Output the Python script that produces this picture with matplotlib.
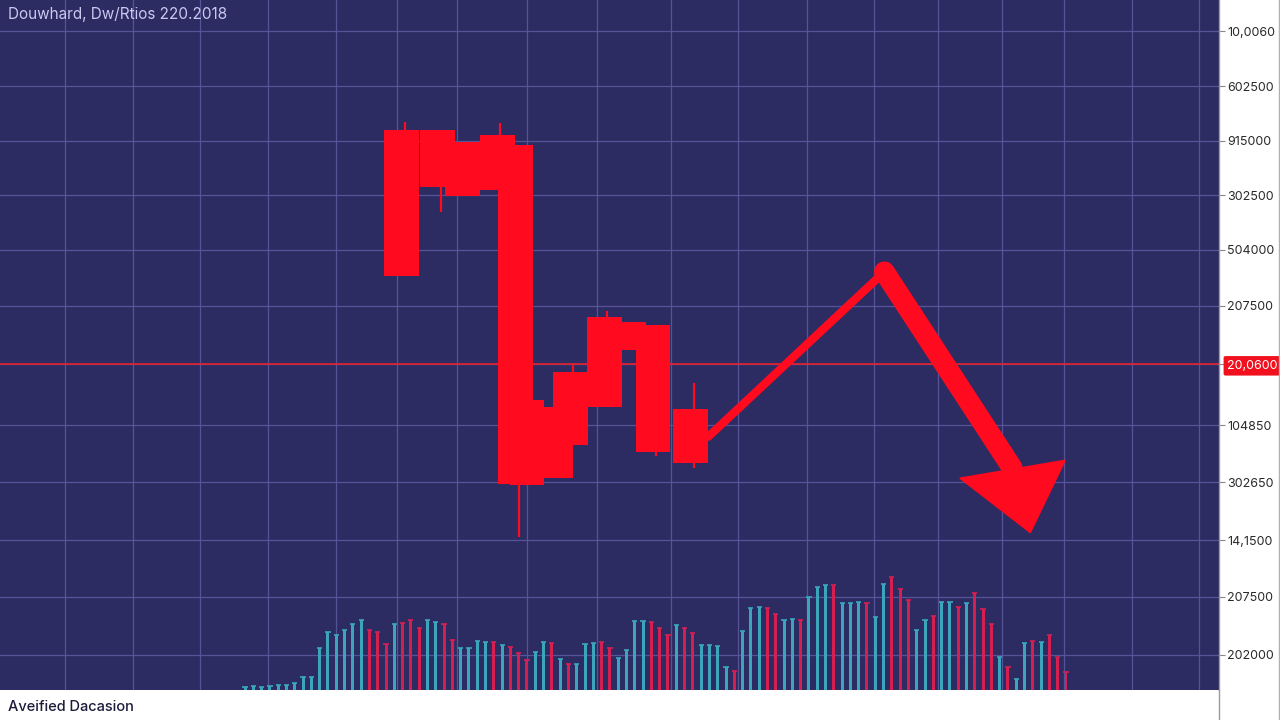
import matplotlib.pyplot as plt
from matplotlib.lines import Line2D
from matplotlib.patches import Polygon

# --- data ------------------------------------------------------------------
# candles: x in bar-index units, prices in chart units
cand_x = [18.9, 23.2, 26.2, 30.4, 32.6, 34.0, 37.4, 39.2, 43.3, 46.2, 49.2, 53.7]
cand_open = [81.2, 81.2, 79.4, 80.4, 79.0, 42.0, 41.0, 46.1, 54.1, 53.3, 52.9, 40.7]
cand_close = [60.0, 72.9, 71.6, 72.5, 29.9, 29.7, 30.7, 35.5, 41.0, 49.3, 34.5, 32.9]
cand_high = [82.3, 81.2, 79.4, 82.2, 79.0, 42.0, 41.0, 47.1, 54.9, 53.3, 52.9, 44.5]
cand_low = [60.0, 69.3, 71.6, 72.5, 22.2, 29.7, 30.7, 35.5, 41.0, 49.3, 33.9, 32.2]

# volume bars (1 = teal / up, 0 = red / down)
volume = [3, 4, 3, 4, 5, 5,
          7, 13, 13, 42, 58, 55, 60, 66, 70,
          60, 58, 46, 66, 67, 70, 62, 70, 68, 66,
          50, 42, 42, 49, 48, 48, 45, 43, 37, 30,
          38, 48, 47, 31, 26, 26, 46, 47, 48, 42,
          32, 40, 69, 69, 68, 62, 55, 65, 62, 57,
          45, 45, 44, 23, 19, 59, 82, 83, 82, 76,
          70, 71, 70, 93, 103, 105, 105, 87, 87, 88,
          87, 73, 106, 113, 101, 90, 60, 70, 74, 88,
          88, 83, 87, 97, 81, 66, 33, 23, 11, 47,
          49, 48, 55, 33, 18]
vol_up = [1, 1, 1, 1, 1, 1,
          1, 1, 1, 1, 1, 1, 1, 1, 1,
          0, 0, 0, 1, 0, 0, 0, 1, 1, 0,
          0, 1, 1, 1, 1, 0, 1, 0, 0, 0,
          1, 1, 0, 1, 0, 1, 1, 1, 0, 0,
          1, 1, 1, 1, 0, 0, 0, 1, 0, 0,
          1, 1, 1, 1, 0, 1, 1, 1, 0, 0,
          1, 1, 0, 1, 1, 1, 0, 1, 1, 1,
          0, 1, 1, 0, 0, 0, 1, 1, 0, 1,
          1, 0, 1, 0, 0, 0, 1, 0, 1, 1,
          0, 1, 0, 0, 0]

# projected move (arrow path) and its head
arrow_x = [55.85, 77.1, 92.5]
arrow_y = [36.7, 60.6, 32.2]
head_x = [86.2, 98.9, 94.7]
head_y = [30.7, 33.3, 22.8]

resistance = 47.2

tick_pos = [95.5, 87.5, 79.6, 71.7, 63.8, 55.7, 47.2, 38.4, 30.1, 21.7, 13.5, 5.1]
tick_labels = ['10,0060', '602500', '915000', '302500', '504000', '207500',
               '20,0600', '104850', '302650', '14,1500', '207500', '202000']
vgrid = [-21.7, -13.5, -5.4, 2.8, 11.0, 18.3, 25.6, 34.0, 42.5, 51.4, 59.5,
         67.8, 75.9, 83.6, 91.3, 98.8, 107.0, 115.0]

title = 'Douwhard, Dw/Rtios 220.2018'
footer = 'Aveified Dacasion'

# --- styling -------------------------------------------------------------------
bg = '#2c2b62'
grid_c = '#5a59a0'
candle_c = '#ff0a1e'
teal = '#3aa5bb'
crimson = '#d41f50'

plt.rcParams['font.family'] = ['Inter', 'DejaVu Sans']

fig = plt.figure(figsize=(12.8, 7.2), dpi=100, facecolor='white')
ax = fig.add_axes([0, 30 / 720, 1219 / 1280, 690 / 720])
ax.set_facecolor(bg)
ax.set_xlim(-29.55, 117.45)
ax.set_ylim(0, 100)

# grid
ax.set_xticks(vgrid)
ax.set_yticks(tick_pos)
ax.set_yticklabels(tick_labels)
ax.grid(True, color=grid_c, linewidth=0.9, alpha=0.9)
ax.set_axisbelow(True)
ax.tick_params(axis='x', length=0, labelbottom=False)
ax.yaxis.tick_right()
ax.tick_params(axis='y', direction='out', length=4, width=0.8, color='#888888',
               labelsize=9, labelcolor='#2a2a2a', pad=2)
for s in ['top', 'left', 'bottom']:
    ax.spines[s].set_visible(False)
ax.spines['right'].set_color('#9a9a9a')
ax.spines['right'].set_linewidth(1)

# highlighted price label
lab = ax.get_yticklabels()[tick_labels.index('20,0600')]
lab.set_color('white')
lab.set_bbox(dict(boxstyle='round,pad=0.3,rounding_size=0.15', facecolor='#f0101e',
                  edgecolor='none'))

# resistance line
ax.axhline(resistance, color='#e8202a', linewidth=1.2, zorder=2)

# candles
w = 4.2
for x, o, c, h, l in zip(cand_x, cand_open, cand_close, cand_high, cand_low):
    lo, hi = min(o, c), max(o, c)
    ax.vlines(x + 0.4, l, h, color=candle_c, linewidth=1.6, zorder=3)
    ax.bar(x, hi - lo, bottom=lo, width=w, color=candle_c, edgecolor='none', zorder=4)

# arrow
ax.plot(arrow_x[:2], arrow_y[:2], color=candle_c, linewidth=6, solid_capstyle='round',
        zorder=5)
ax.plot(arrow_x[1:], arrow_y[1:], color=candle_c, linewidth=15, solid_capstyle='round',
        solid_joinstyle='round', zorder=5)
ax.add_patch(Polygon(list(zip(head_x, head_y)), closed=True, color=candle_c, zorder=6))

# volume
axv = fig.add_axes(ax.get_position(), sharex=ax)
axv.patch.set_visible(False)
axv.axis('off')
axv.set_ylim(0, 690)
vx = list(range(len(volume)))
cols = [teal if u else crimson for u in vol_up]
axv.bar(vx, volume, width=0.36, color=cols, edgecolor='none')
axv.scatter(vx, volume, marker='_', s=14, c=cols, linewidths=1.2)

# texts and frame lines
fig.text(8 / 1280, 1 - 15 / 720, title, color='#c9c9f0', fontsize=11, va='center')
fig.text(8 / 1280, 13 / 720, footer, color='#1c1c3a', fontsize=10.5,
         fontweight='medium', va='center')
fig.add_artist(Line2D([1219 / 1280, 1219 / 1280], [0, 30 / 720], color='#9a9a9a',
                      linewidth=1, transform=fig.transFigure))
fig.add_artist(Line2D([1279 / 1280, 1279 / 1280], [0, 1], color='#b0b0b0',
                      linewidth=1, transform=fig.transFigure))

fig.savefig('out.png', dpi=100, facecolor='white')
